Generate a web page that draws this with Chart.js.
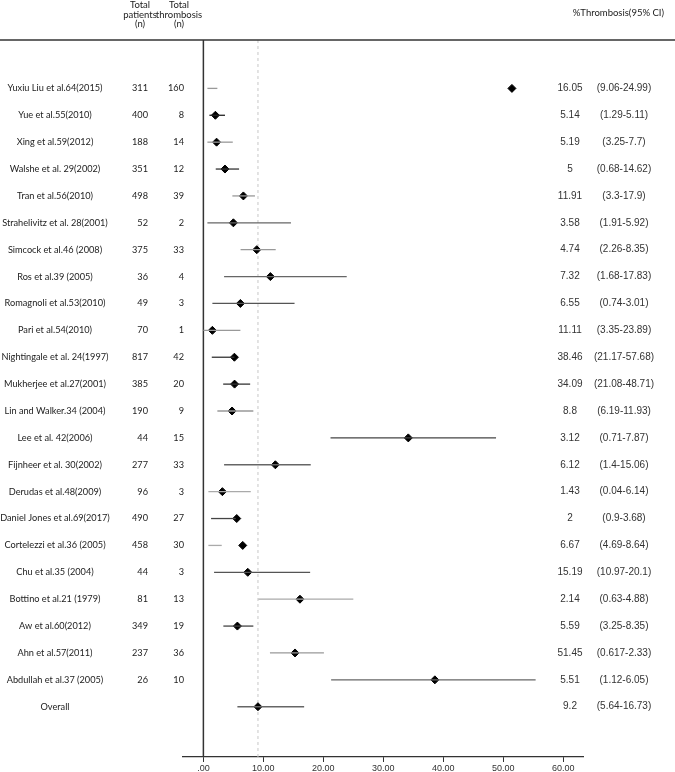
<!DOCTYPE html>
<html>
<head>
<meta charset="utf-8">
<script src="https://cdn.jsdelivr.net/npm/chart.js@4.4.1/dist/chart.umd.min.js"></script>
<style>
  html, body { margin: 0; padding: 0; background: #fff; overflow: hidden; }
  canvas { display: block; }
</style>
</head>
<body>
<canvas id="graficoForest" width="675" height="772"></canvas>
<script>
const estudos = ['Yuxiu Liu et al.64(2015)', 'Yue et al.55(2010)', 'Xing et al.59(2012)', 'Walshe et al. 29(2002)',
  'Tran et al.56(2010)', 'Strahelivitz et al. 28(2001)', 'Simcock et al.46 (2008)', 'Ros et al.39 (2005)',
  'Romagnoli et al.53(2010)', 'Pari et al.54(2010)', 'Nightingale et al. 24(1997)', 'Mukherjee et al.27(2001)',
  'Lin and Walker.34 (2004)', 'Lee et al. 42(2006)', 'Fijnheer et al. 30(2002)', 'Derudas et al.48(2009)',
  'Daniel Jones et al.69(2017)', 'Cortelezzi et al.36 (2005)', 'Chu et al.35 (2004)', 'Bottino et al.21 (1979)',
  'Aw et al.60(2012)', 'Ahn et al.57(2011)', 'Abdullah et al.37 (2005)', 'Overall'];
const totalPacientes = [311, 400, 188, 351, 498, 52, 375, 36, 49, 70, 817, 385, 190, 44, 277, 96, 490, 458, 44, 81, 349, 237, 26, null];
const totalTrombose = [160, 8, 14, 12, 39, 2, 33, 4, 3, 1, 42, 20, 9, 15, 33, 3, 27, 30, 3, 13, 19, 36, 10, null];

// valores desenhados
const estimativa = [51.45, 2.0, 2.2, 3.6, 6.67, 5.0, 8.9, 11.17, 6.17, 1.5, 5.17, 5.2, 4.78, 34.17, 12.0, 3.17, 5.56, 6.56, 7.4, 16.1, 5.67, 15.28, 38.6, 9.1];
const limInferior = [0.67, 1.0, 0.67, 2.06, 4.83, 0.67, 6.2, 3.45, 1.5, 0.0, 1.4, 3.3, 2.33, 21.2, 3.45, 0.83, 1.28, 0.83, 1.78, 9.17, 3.33, 11.1, 21.3, 5.67];
const limSuperior = [2.33, 3.6, 4.9, 5.95, 8.6, 14.6, 12.06, 23.9, 15.2, 6.17, 5.17, 7.8, 8.33, 48.8, 17.9, 7.9, 5.4, 3.06, 17.8, 25.0, 8.33, 20.1, 55.4, 16.8];

// coluna de texto da direita
const textoPct = ['16.05', '5.14', '5.19', '5', '11.91', '3.58', '4.74', '7.32', '6.55', '11.11', '38.46', '34.09',
  '8.8', '3.12', '6.12', '1.43', '2', '6.67', '15.19', '2.14', '5.59', '51.45', '5.51', '9.2'];
const textoIC = ['(9.06-24.99)', '(1.29-5.11)', '(3.25-7.7)', '(0.68-14.62)', '(3.3-17.9)', '(1.91-5.92)', '(2.26-8.35)',
  '(1.68-17.83)', '(0.74-3.01)', '(3.35-23.89)', '(21.17-57.68)', '(21.08-48.71)', '(6.19-11.93)', '(0.71-7.87)',
  '(1.4-15.06)', '(0.04-6.14)', '(0.9-3.68)', '(4.69-8.64)', '(10.97-20.1)', '(0.63-4.88)', '(3.25-8.35)',
  '(0.617-2.33)', '(1.12-6.05)', '(5.64-16.73)'];

const ticksX = [0, 10, 20, 30, 40, 50, 60];

// tons das linhas de IC (estilo)
const tonsLinha = ['#999', '#222', '#999', '#333', '#999', '#666', '#999', '#666', '#555', '#999', '#333', '#333',
  '#999', '#444', '#666', '#aaa', '#444', '#aaa', '#555', '#aaa', '#444', '#999', '#666', '#666'];

const fonteTexto = 'Lato, "Open Sans", sans-serif';
const fonteNum = '"Liberation Sans", Arial, sans-serif';

const datasetsIC = estudos.map((nome, i) => ({
  type: 'line',
  label: nome,
  data: [{ x: limInferior[i], y: i }, { x: limSuperior[i], y: i }],
  borderColor: tonsLinha[i],
  borderWidth: 1.3,
  pointRadius: 0,
  showLine: true
}));

const datasetPontos = {
  type: 'scatter',
  label: 'Estimativa',
  data: estimativa.map((v, i) => ({ x: v, y: i })),
  pointStyle: 'rectRot',
  pointRadius: 4,
  backgroundColor: '#000',
  borderColor: '#000',
  borderWidth: 1
};

const pluginMoldura = {
  id: 'moldura',
  beforeDatasetsDraw(chart) {
    const { ctx, chartArea, scales } = chart;
    ctx.save();
    // linha de referência tracejada (overall)
    const xRef = scales.x.getPixelForValue(estimativa[estimativa.length - 1]);
    ctx.strokeStyle = '#c8c8c8';
    ctx.lineWidth = 1;
    ctx.setLineDash([3, 3]);
    ctx.beginPath();
    ctx.moveTo(xRef, chartArea.top);
    ctx.lineTo(xRef, chartArea.bottom);
    ctx.stroke();
    ctx.setLineDash([]);
    // eixo vertical no zero
    const x0 = scales.x.getPixelForValue(0);
    ctx.strokeStyle = '#333';
    ctx.lineWidth = 1.5;
    ctx.beginPath();
    ctx.moveTo(x0, chartArea.top);
    ctx.lineTo(x0, chartArea.bottom);
    ctx.stroke();
    // linha do cabeçalho
    ctx.beginPath();
    ctx.moveTo(0, chartArea.top);
    ctx.lineTo(chart.width, chartArea.top);
    ctx.stroke();
    ctx.restore();
  },
  afterDraw(chart) {
    const { ctx, scales } = chart;
    ctx.save();
    ctx.fillStyle = '#222';
    ctx.textBaseline = 'middle';

    // cabeçalhos
    ctx.font = '9.5px ' + fonteTexto;
    ctx.textAlign = 'center';
    [['Total', 5], ['patients', 15], ['(n)', 24]].forEach(([t, y]) => ctx.fillText(t, 140, y));
    [['Total', 5], ['thrombosis', 15], ['(n)', 24]].forEach(([t, y]) => ctx.fillText(t, 179, y));
    ctx.textAlign = 'right';
    ctx.fillText('%Thrombosis(95% CI)', 664, 13);

    estudos.forEach((nome, i) => {
      const y = scales.y.getPixelForValue(i);
      ctx.font = '9.2px ' + fonteTexto;
      ctx.fillStyle = '#222';
      ctx.textAlign = 'center';
      ctx.fillText(nome, 55, y);
      ctx.textAlign = 'right';
      if (totalPacientes[i] !== null) ctx.fillText(String(totalPacientes[i]), 148, y);
      if (totalTrombose[i] !== null) ctx.fillText(String(totalTrombose[i]), 184, y);

      ctx.font = '10px ' + fonteNum;
      ctx.fillStyle = '#333';
      ctx.textAlign = 'center';
      ctx.fillText(textoPct[i], 570, y);
      ctx.fillText(textoIC[i], 624, y);
    });
    ctx.restore();
  }
};

const graficoForest = new Chart(document.getElementById('graficoForest'), {
  data: { datasets: [...datasetsIC, datasetPontos] },
  options: {
    responsive: false,
    animation: false,
    layout: { padding: { left: 183, right: 92, top: 40, bottom: 0 } },
    plugins: { legend: { display: false }, tooltip: { enabled: false } },
    scales: {
      x: {
        type: 'linear',
        min: -3.4,
        max: 63.3,
        afterBuildTicks: axis => { axis.ticks = ticksX.map(v => ({ value: v })); },
        afterFit: axis => { axis.height = 15; },
        ticks: {
          includeBounds: false,
          padding: 1,
          color: '#333',
          font: { family: fonteNum, size: 9 },
          callback: v => (v === 0 ? '.00' : v.toFixed(2))
        },
        grid: { drawOnChartArea: false, drawTicks: true, tickLength: 5, color: '#333' },
        border: { display: true, color: '#333', width: 1.2 }
      },
      y: {
        type: 'linear',
        min: -1.8,
        max: 24.87,
        reverse: true,
        display: false
      }
    }
  },
  plugins: [pluginMoldura]
});
</script>
</body>
</html>
